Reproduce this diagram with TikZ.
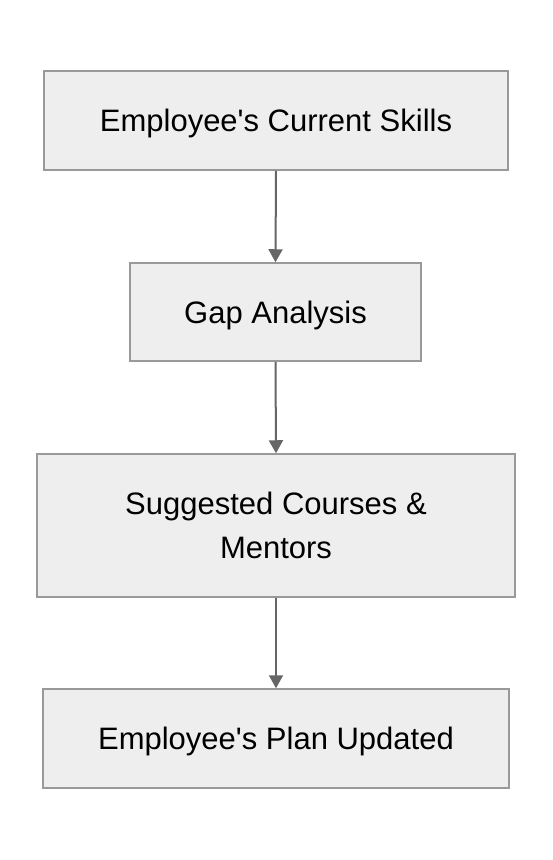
\documentclass[tikz,border=0pt]{standalone}
\usepackage{fontspec}
\setmainfont{Liberation Sans}[Ligatures=TeXOff]
\usetikzlibrary{arrows.meta}
\definecolor{boxfill}{HTML}{EEEEEE}
\definecolor{boxline}{HTML}{999999}
\definecolor{arrowc}{HTML}{666666}
\newcommand{\lowr}[1]{\raisebox{-3pt}[\height][\depth]{#1}}
\tikzset{
  flowbox/.style={draw=boxline, fill=boxfill, line width=1.5pt, align=center,
    font=\fontsize{31}{44}\selectfont, text=black, inner sep=0pt},
  flowarrow/.style={draw=arrowc, line width=2pt, -{Triangle[length=13pt,width=14pt]}}
}
\begin{document}
\begin{tikzpicture}[x=1pt,y=-1pt]
\useasboundingbox (0,0) rectangle (552,860);
\node[flowbox, minimum width=464pt, minimum height=99pt] (a) at (276,120.5) {\lowr{Employee's Current Skills}};
\node[flowbox, minimum width=291pt, minimum height=98pt] (b) at (275.5,312) {\lowr{Gap Analysis}};
\node[flowbox, minimum width=478pt, minimum height=143pt] (c) at (276,525.5) {Suggested Courses \&\\Mentors};
\node[flowbox, minimum width=466pt, minimum height=99pt] (d) at (276,738.5) {\lowr{Employee's Plan Updated}};
\draw[flowarrow] (a.south) -- (b.north);
\draw[flowarrow] (b.south) -- (c.north);
\draw[flowarrow] (c.south) -- (d.north);
\end{tikzpicture}
\end{document}
